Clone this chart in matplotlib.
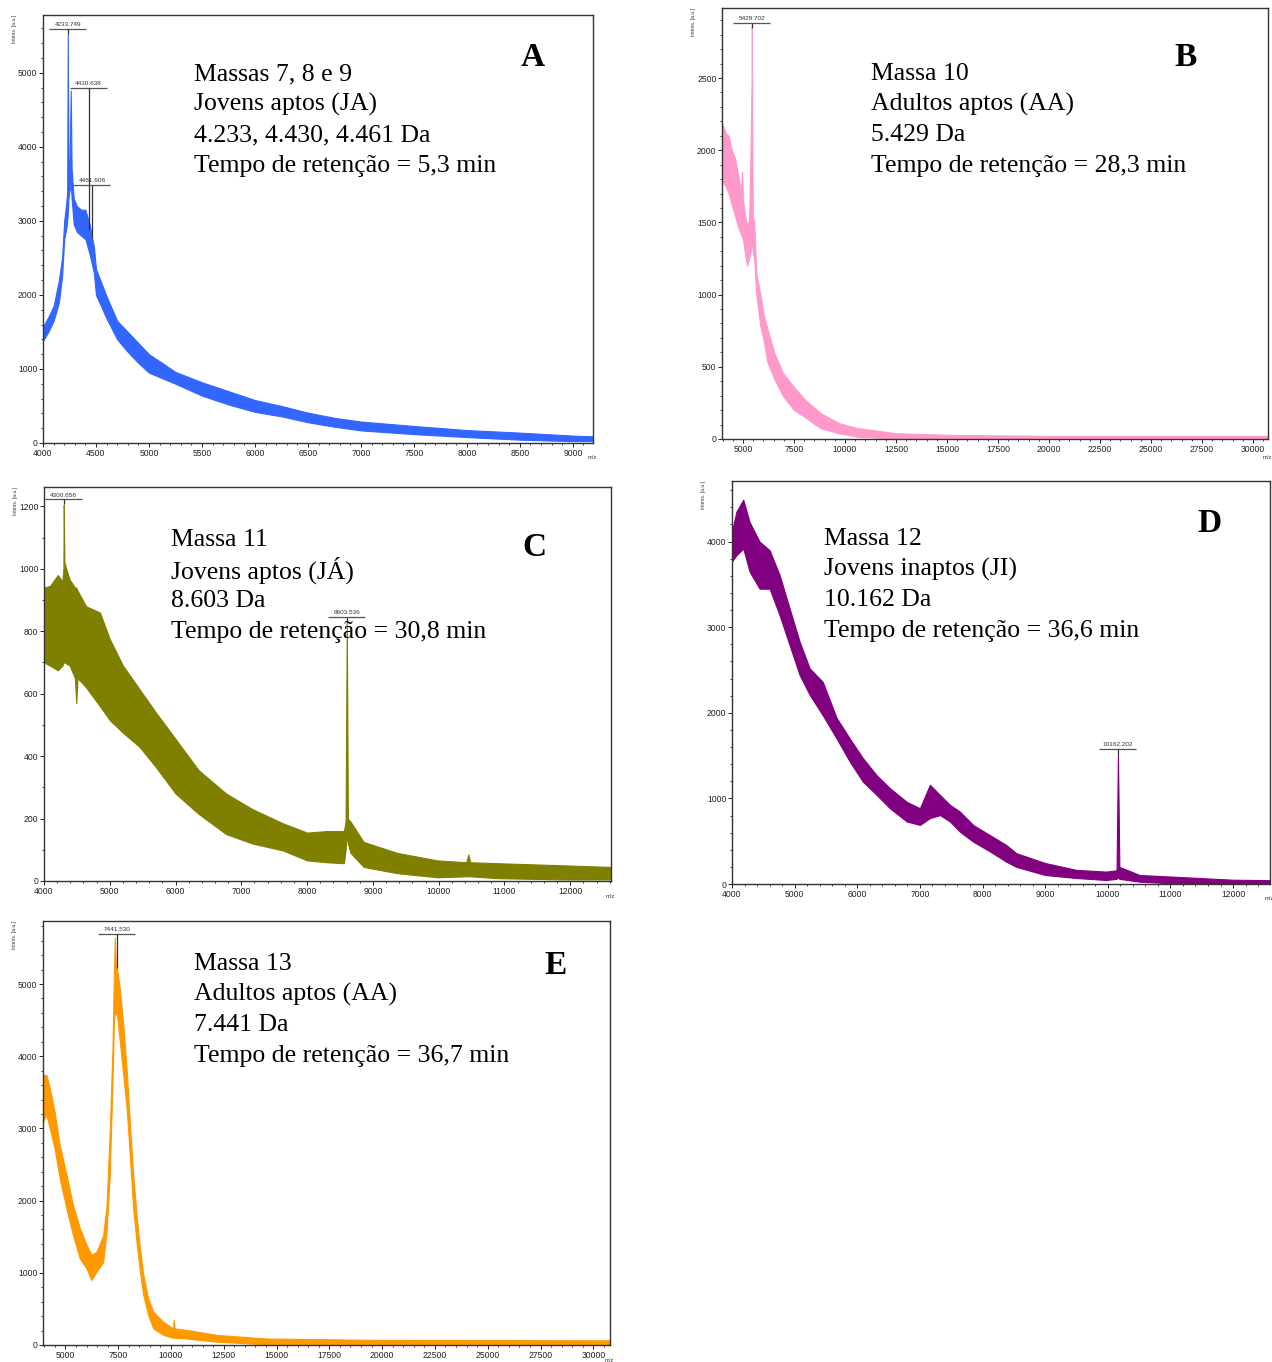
import numpy as np
import matplotlib
matplotlib.use("Agg")
import matplotlib.pyplot as plt
from matplotlib.ticker import MultipleLocator

plt.rcParams['font.family'] = ['Liberation Sans', 'DejaVu Sans']

W, H = 1272, 1362

# ---- panel A : Massas 7, 8 e 9 (m/z, lower edge, upper edge of the noisy trace)
a_mz = [4000, 4050, 4100, 4150, 4180, 4200, 4220, 4228, 4234, 4240, 4250, 4262, 4270,
        4290, 4320, 4360, 4400, 4440, 4480, 4500, 4600, 4700, 4800, 4900, 5000, 5250,
        5500, 5750, 6000, 6250, 6500, 6750, 7000, 7500, 8000, 8500, 9000, 9190]
a_lo = [1380, 1500, 1650, 1900, 2250, 2750, 2900, 3000, 3100, 3300, 3400, 3500, 3300,
        2950, 2850, 2800, 2750, 2550, 2300, 2000, 1680, 1400, 1230, 1080, 950, 800,
        640, 520, 420, 360, 280, 220, 170, 120, 80, 45, 25, 25]
a_hi = [1570, 1700, 1850, 2200, 2500, 3000, 3250, 3400, 5520, 3800, 3700, 4760, 3700,
        3300, 3200, 3150, 3150, 2950, 2650, 2350, 1980, 1650, 1500, 1350, 1200, 960,
        820, 700, 580, 500, 410, 340, 290, 230, 175, 140, 100, 90]

# ---- panel B : Massa 10
b_mz = [4000, 4150, 4300, 4450, 4600, 4800, 4900, 4950, 5000, 5100, 5200, 5300, 5380,
        5420, 5430, 5445, 5480, 5550, 5650, 5850, 6000, 6200, 6550, 6950, 7500, 8050,
        8800, 9700, 10650, 12500, 15300, 20000, 25000, 30700]
b_lo = [1780, 1750, 1700, 1620, 1550, 1450, 1420, 1400, 1380, 1280, 1200, 1250, 1300,
        1350, 1400, 1380, 1300, 1250, 1000, 780, 690, 530, 410, 300, 200, 150,
        75, 40, 15, 5, 0, 0, 0, 0]
b_hi = [2180, 2120, 2100, 2000, 1950, 1800, 1700, 1850, 1650, 1550, 1480, 1520, 2100,
        2500, 2860, 2450, 1550, 1500, 1150, 1000, 870, 760, 590, 460, 360, 270,
        180, 110, 75, 40, 28, 22, 22, 22]

# ---- panel C : Massa 11
c_mz = [4000, 4090, 4210, 4280, 4295, 4300, 4310, 4390, 4470, 4490, 4510, 4640, 4850,
        5000, 5200, 5450, 5700, 6000, 6350, 6770, 7170, 7630, 8000, 8300, 8560, 8585,
        8603, 8620, 8660, 8860, 9370, 9980, 10420, 10450, 10480, 10900, 11920, 12620]
c_lo = [700, 690, 675, 690, 700, 720, 700, 690, 650, 570, 650, 620, 560,
        515, 475, 430, 365, 280, 215, 150, 120, 98, 66, 60, 57, 100,
        150, 120, 90, 45, 25, 12, 15, 15, 15, 9, 5, 5]
c_hi = [940, 945, 980, 960, 1000, 1205, 1020, 965, 940, 940, 930, 880, 860,
        775, 690, 615, 540, 455, 355, 280, 230, 185, 155, 160, 160, 190,
        830, 200, 190, 125, 90, 66, 60, 85, 60, 57, 50, 45]

# ---- panel D : Massa 12
d_mz = [4000, 4070, 4180, 4280, 4440, 4600, 4760, 4920, 5080, 5240, 5450, 5670, 5880,
        6090, 6310, 6520, 6790, 7000, 7160, 7320, 7480, 7640, 7850, 8120, 8380, 8540,
        9000, 9500, 9970, 10140, 10162, 10185, 10510, 11040, 12000, 12590]
d_lo = [3770, 3840, 3920, 3650, 3450, 3450, 3140, 2790, 2440, 2210, 1970, 1700, 1430,
        1195, 1040, 885, 730, 690, 770, 805, 730, 610, 495, 380, 260, 200,
        105, 70, 47, 60, 80, 60, 27, 8, 0, 0]
d_hi = [4120, 4350, 4490, 4230, 4000, 3900, 3610, 3220, 2830, 2520, 2360, 1940, 1700,
        1470, 1270, 1120, 960, 885, 1160, 1040, 925, 845, 690, 570, 455, 360,
        245, 165, 145, 160, 1527, 200, 105, 86, 50, 45]

# ---- panel E : Massa 13
e_mz = [3940, 4100, 4260, 4490, 4730, 5050, 5360, 5680, 6000, 6230, 6470, 6790, 6950,
        7100, 7230, 7300, 7340, 7380, 7450, 7580, 7740, 7900, 8050, 8210, 8370, 8530,
        8690, 8920, 9160, 9640, 10100, 10130, 10160, 10740, 12170, 14540, 20000, 30790]
e_lo = [3090, 3190, 3000, 2720, 2310, 1890, 1520, 1200, 1060, 900, 1015, 1150, 1570,
        2350, 3650, 4500, 4600, 4600, 4550, 4200, 3740, 3280, 2630, 1890, 1430, 1015,
        690, 415, 230, 140, 100, 110, 100, 90, 45, 10, 5, 5]
e_hi = [3740, 3740, 3560, 3230, 2770, 2360, 1940, 1620, 1390, 1250, 1290, 1520, 1940,
        2950, 4110, 5200, 5640, 5300, 5200, 4940, 4430, 3830, 3090, 2360, 1800, 1340,
        970, 645, 460, 320, 230, 350, 230, 210, 140, 90, 70, 65]

fig = plt.figure(figsize=(W / 100, H / 100), dpi=100)


def panel(l, t, r, b, mz, lo, hi, color, xlim, ylim, xmaj, xmin, ymaj, ymin, mz_dy=15):
    ax = fig.add_axes([l / W, 1 - b / H, (r - l) / W, (b - t) / H])
    ax.fill_between(mz, lo, hi, color=color, lw=0.8, edgecolor=color)
    ax.set_xlim(*xlim)
    ax.set_ylim(*ylim)
    ax.xaxis.set_major_locator(MultipleLocator(xmaj))
    ax.xaxis.set_minor_locator(MultipleLocator(xmin))
    ax.yaxis.set_major_locator(MultipleLocator(ymaj))
    ax.yaxis.set_minor_locator(MultipleLocator(ymin))
    ax.tick_params(which='major', length=3, width=0.7, labelsize=6.2, pad=1,
                   colors='#222222')
    ax.tick_params(which='minor', length=1.6, width=0.6, colors='#222222')
    for s in ax.spines.values():
        s.set_color('#333333')
        s.set_linewidth(1.0)
    fig.text((l - 31) / W, 1 - t / H, 'Intens. [a.u.]', rotation=90, fontsize=3.6,
             ha='left', va='top', color='#333333')
    fig.text((r - 5) / W, 1 - (b + mz_dy) / H, 'm/z', fontsize=4.2, ha='left',
             va='center', color='#333333')
    ax.wpx = r - l
    return ax


def peak_label(ax, mz, label, bar_y, low=None):
    x0, x1 = ax.get_xlim()
    hw = 18.5 / ax.wpx * (x1 - x0)
    y0, y1 = ax.get_ylim()
    if low is None:
        low = bar_y - (y1 - y0) * 0.012
    ax.hlines(bar_y, mz - hw, mz + hw, color='#555555', lw=0.9)
    ax.vlines(mz, low, bar_y, color='#333333', lw=0.9)
    ax.text(mz, bar_y + (y1 - y0) * 0.004, label, fontsize=4.6, ha='center',
            va='bottom', color='#333333')


def info(x, y, lines, letter, lx, ly):
    for i, s in enumerate(lines):
        fig.text(x / W, 1 - (y + 2 + i * 30.6) / H, s, fontsize=18.5,
                 family='Liberation Serif', ha='left', va='center')
    fig.text(lx / W, 1 - ly / H, letter, fontsize=24, fontweight='bold',
             family='Liberation Serif', ha='center', va='center')


axA = panel(43, 15, 593, 443, a_mz, a_lo, a_hi, '#3366ff', (4000, 9190), (0, 5780),
            500, 100, 1000, 200, 15)
peak_label(axA, 4233.749, '4233.749', 5593)
peak_label(axA, 4430.638, '4430.638', 4796, 2878)
peak_label(axA, 4461.606, '4461.606', 3486, 2770)
info(194, 72, ['Massas 7, 8 e 9', 'Jovens aptos (JA)', '4.233, 4.430, 4.461 Da',
               'Tempo de retenção = 5,3 min'], 'A', 533, 57)

axB = panel(722, 8, 1268, 439, b_mz, b_lo, b_hi, '#ff99cc', (3970, 30735), (0, 2985),
            2500, 500, 500, 100, 19)
peak_label(axB, 5429.702, '5429.702', 2883)
info(871, 72, ['Massa 10', 'Adultos aptos (AA)', '5.429 Da',
               'Tempo de retenção = 28,3 min'], 'B', 1186, 57)

axC = panel(44, 487, 611, 881, c_mz, c_lo, c_hi, '#808000', (4000, 12620), (0, 1262),
            1000, 200, 200, 100, 16)
peak_label(axC, 4300.656, '4300.656', 1223)
peak_label(axC, 8603.536, '8603.536', 846)
info(171, 538, ['Massa 11', 'Jovens aptos (JÁ)', '8.603 Da',
                'Tempo de retenção = 30,8 min'], 'C', 534, 547)

axD = panel(732, 481, 1270, 884, d_mz, d_lo, d_hi, '#800080', (4000, 12590), (0, 4708),
            1000, 200, 1000, 200, 14)
peak_label(axD, 10162.202, '10162.202', 1577)
info(824, 537, ['Massa 12', 'Jovens inaptos (JI)', '10.162 Da',
                'Tempo de retenção = 36,6 min'], 'D', 1210, 523)

axE = panel(43, 921, 610, 1345, e_mz, e_lo, e_hi, '#ff9900', (3940, 30790), (0, 5873),
            2500, 500, 1000, 200, 16)
peak_label(axE, 7441.530, '7441.530', 5693, 5222)
info(194, 962, ['Massa 13', 'Adultos aptos (AA)', '7.441 Da',
                'Tempo de retenção = 36,7 min'], 'E', 556, 966)

fig.savefig('out.png', dpi=100)
